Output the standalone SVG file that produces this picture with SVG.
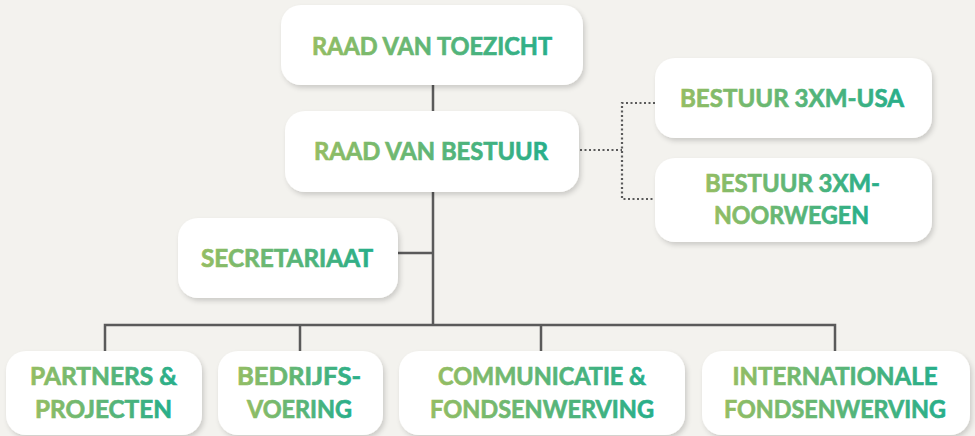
<svg xmlns="http://www.w3.org/2000/svg" width="975" height="436" viewBox="0 0 975 436">
<defs>
<linearGradient id="tg" x1="0" y1="0" x2="1" y2="0">
<stop offset="0" stop-color="#94bd63"/>
<stop offset="1" stop-color="#27ae8a"/>
</linearGradient>
<filter id="sh" x="-10%" y="-10%" width="125%" height="135%">
<feDropShadow dx="2" dy="3" stdDeviation="2.5" flood-color="#000" flood-opacity="0.16"/>
</filter>
</defs>
<style>
.box{fill:#ffffff;filter:url(#sh)}
.t{font-family:Lato,"Noto Sans","Liberation Sans",sans-serif;font-weight:bold;font-size:25.5px;fill:url(#tg);stroke:url(#tg);stroke-width:0.7;text-anchor:middle}
.ln{stroke:#5a5a5a;stroke-width:2.5;fill:none}
.dt{stroke:#5a5a5a;stroke-width:2.2;fill:none;stroke-dasharray:2 2.5}
</style>
<rect width="975" height="436" fill="#f3f2ee"/>
<g id="connectors">
<path class="ln" d="M433 85V111M433 192V325M398 253H433M105 351V325H835V351M300 325V351M541 325V351"/>
<path class="dt" d="M580 150H622M655 103H622V199H655"/>
</g>
<g id="raad-van-toezicht">
<rect class="box" x="281" y="5" width="302" height="80" rx="20"/>
<text class="t" x="432" y="55" textLength="240" lengthAdjust="spacingAndGlyphs">RAAD VAN TOEZICHT</text>
</g>
<g id="raad-van-bestuur">
<rect class="box" x="285" y="111" width="294" height="81" rx="20"/>
<text class="t" x="431" y="160" textLength="234" lengthAdjust="spacingAndGlyphs">RAAD VAN BESTUUR</text>
</g>
<g id="bestuur-usa">
<rect class="box" x="655" y="58" width="277" height="80" rx="20"/>
<text class="t" x="792" y="107" textLength="224" lengthAdjust="spacingAndGlyphs">BESTUUR 3XM-USA</text>
</g>
<g id="bestuur-noorwegen">
<rect class="box" x="655" y="158" width="277" height="84" rx="20"/>
<text class="t" x="792.5" y="192" textLength="175" lengthAdjust="spacingAndGlyphs">BESTUUR 3XM-</text>
<text class="t" x="791.5" y="224" textLength="155" lengthAdjust="spacingAndGlyphs">NOORWEGEN</text>
</g>
<g id="secretariaat">
<rect class="box" x="178" y="218" width="220" height="80" rx="20"/>
<text class="t" x="287" y="267" textLength="172" lengthAdjust="spacingAndGlyphs">SECRETARIAAT</text>
</g>
<g id="partners-projecten">
<rect class="box" x="6" y="351" width="196" height="84" rx="20"/>
<text class="t" x="103.5" y="385" textLength="147" lengthAdjust="spacingAndGlyphs">PARTNERS &amp;</text>
<text class="t" x="103.5" y="418" textLength="137" lengthAdjust="spacingAndGlyphs">PROJECTEN</text>
</g>
<g id="bedrijfsvoering">
<rect class="box" x="218" y="351" width="165" height="84" rx="20"/>
<text class="t" x="299" y="385" textLength="124" lengthAdjust="spacingAndGlyphs">BEDRIJFS-</text>
<text class="t" x="299.5" y="418" textLength="105" lengthAdjust="spacingAndGlyphs">VOERING</text>
</g>
<g id="communicatie-fondsenwerving">
<rect class="box" x="399" y="351" width="286" height="84" rx="20"/>
<text class="t" x="542" y="385" textLength="208" lengthAdjust="spacingAndGlyphs">COMMUNICATIE &amp;</text>
<text class="t" x="542" y="418" textLength="224" lengthAdjust="spacingAndGlyphs">FONDSENWERVING</text>
</g>
<g id="internationale-fondsenwerving">
<rect class="box" x="702" y="351" width="268" height="84" rx="20"/>
<text class="t" x="835" y="385" textLength="205" lengthAdjust="spacingAndGlyphs">INTERNATIONALE</text>
<text class="t" x="835" y="418" textLength="222" lengthAdjust="spacingAndGlyphs">FONDSENWERVING</text>
</g>
</svg>
